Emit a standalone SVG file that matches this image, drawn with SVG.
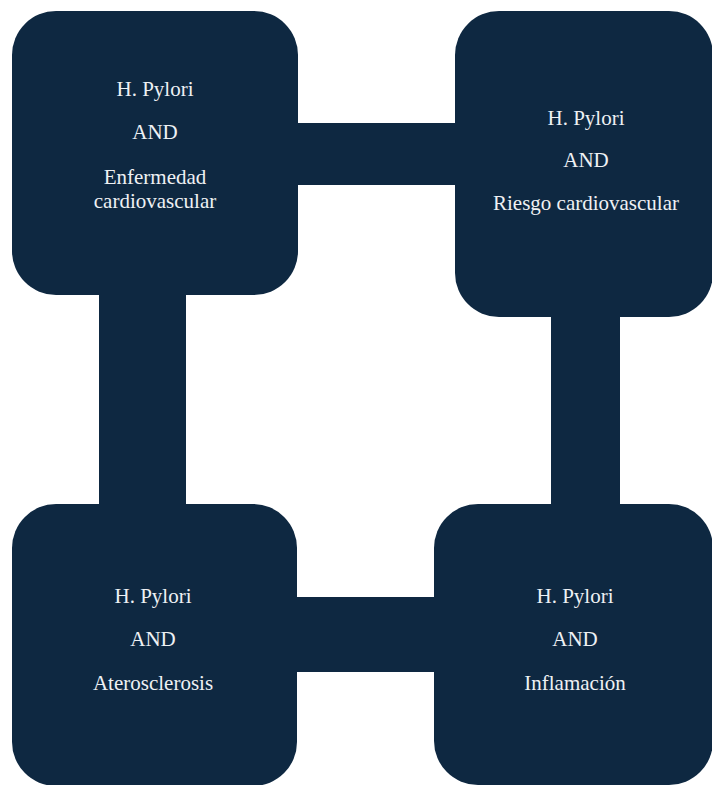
<svg xmlns="http://www.w3.org/2000/svg" width="712" height="785" viewBox="0 0 712 785">
<style>
.box{fill:#0e2841}
.conn{fill:#0e2841}
text{font-family:'Liberation Serif',serif;font-size:21px;fill:#eef1f4;text-anchor:middle}
</style>
<rect width="712" height="785" fill="#ffffff"/>
<g id="connectors">
<rect class="conn" x="290" y="123" width="172" height="62"/>
<rect class="conn" x="99" y="285" width="87" height="230"/>
<rect class="conn" x="551" y="305" width="69" height="210"/>
<rect class="conn" x="290" y="597" width="150" height="75"/>
</g>
<g id="node-enfermedad">
<rect class="box" x="12" y="11" width="286" height="284" rx="44" ry="44"/>
<text x="155" y="96">H. Pylori</text>
<text x="155" y="139">AND</text>
<text x="155" y="184">Enfermedad</text>
<text x="155" y="208">cardiovascular</text>
</g>
<g id="node-riesgo">
<rect class="box" x="455" y="11" width="258" height="306" rx="44" ry="44"/>
<text x="586" y="125">H. Pylori</text>
<text x="586" y="167">AND</text>
<text x="586" y="210">Riesgo cardiovascular</text>
</g>
<g id="node-aterosclerosis">
<rect class="box" x="12" y="504" width="285" height="282" rx="44" ry="44"/>
<text x="153" y="603">H. Pylori</text>
<text x="153" y="646">AND</text>
<text x="153" y="690">Aterosclerosis</text>
</g>
<g id="node-inflamacion">
<rect class="box" x="434" y="504" width="279" height="281" rx="44" ry="44"/>
<text x="575" y="603">H. Pylori</text>
<text x="575" y="646">AND</text>
<text x="575" y="690">Inflamación</text>
</g>
</svg>
